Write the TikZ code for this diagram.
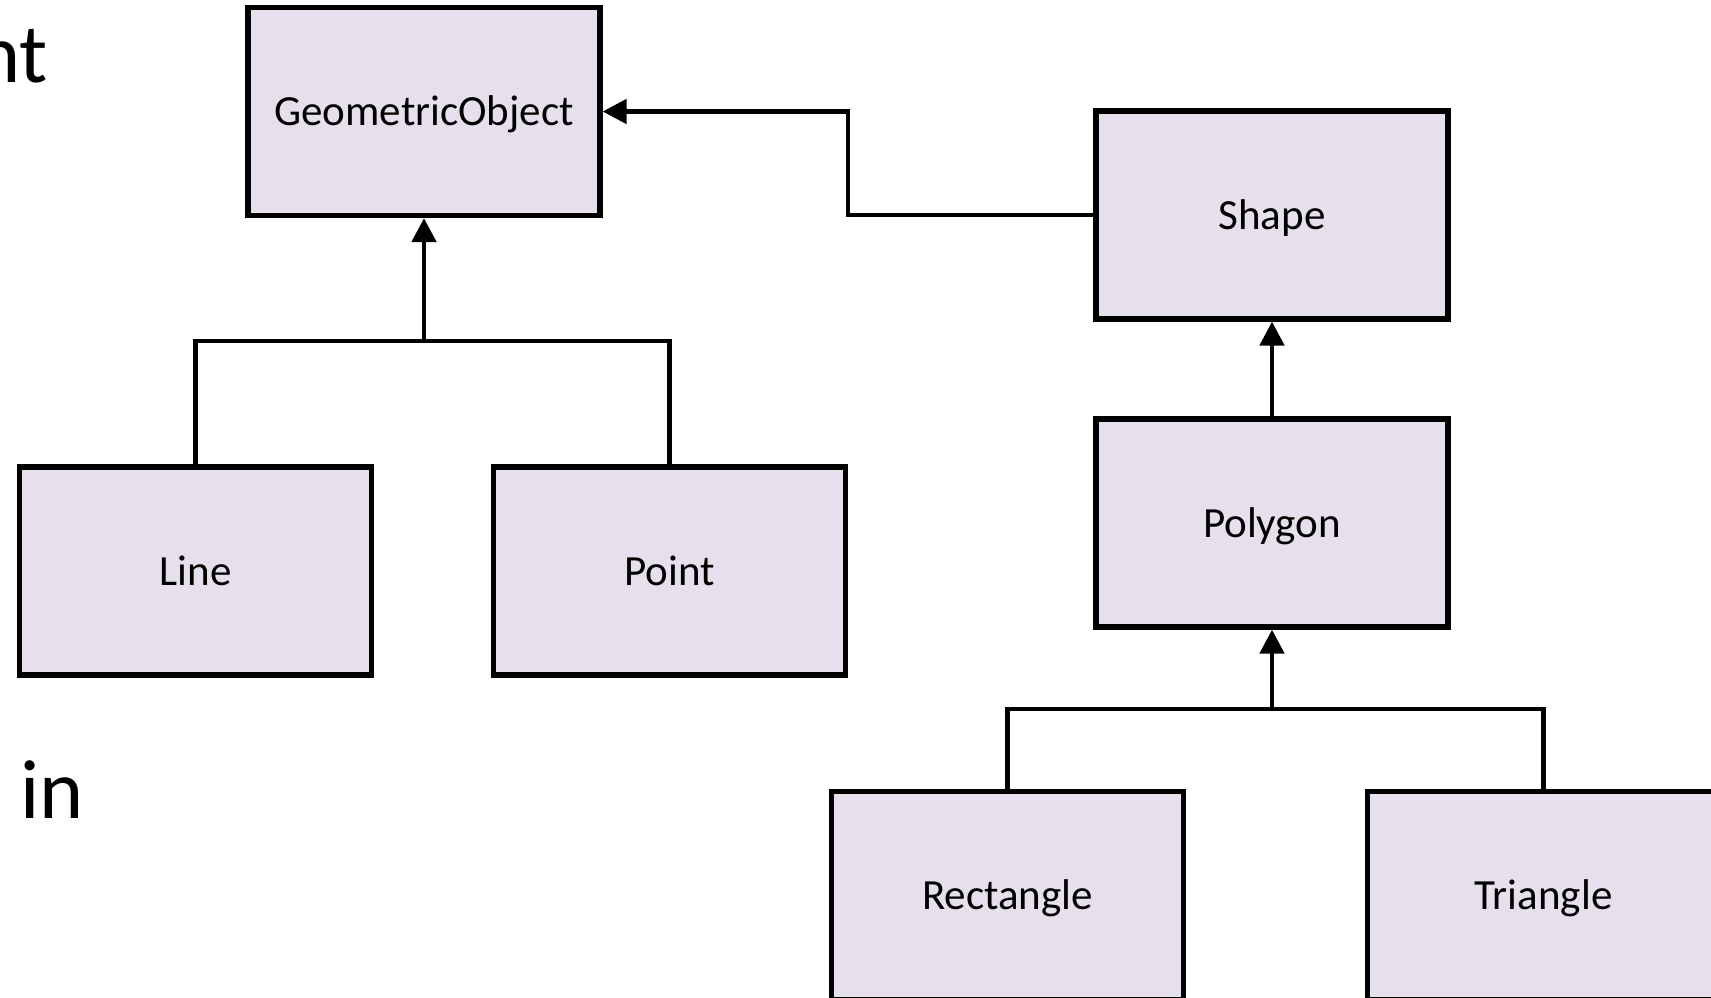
\documentclass[tikz,border=0pt]{standalone}
\usepackage{fontspec}
\setmainfont{Carlito}
\usetikzlibrary{arrows.meta}
\definecolor{boxfill}{HTML}{E5E0EC}
\tikzset{
  cls/.style={draw=black, line width=2.6pt, fill=boxfill, minimum width=176pt,
    minimum height=104pt, inner sep=0pt, text height=14.2pt, text depth=0pt,
    font=\fontsize{21.5}{24}\selectfont},
  inherit/.style={draw=black, line width=2.4pt, -{Triangle[length=12pt,width=12pt]}},
  link/.style={draw=black, line width=2.4pt},
  bigtext/.style={inner sep=0pt, font=\fontsize{42}{48}\selectfont}
}
\begin{document}
\begin{tikzpicture}[x=0.5pt,y=-0.5pt]
\useasboundingbox (0,0) rectangle (1711,997);
\clip (0,0) rectangle (1711,997);

% partial words at the left margin
\node[bigtext, anchor=base east] (txtnt) at (48,82) {nt};
\node[bigtext, anchor=base west] (txtin) at (20,818) {in};

% class boxes
\node[cls] (geo) at (424,111.5) {GeometricObject};
\node[cls] (shape) at (1272,215) {Shape};
\node[cls] (poly) at (1272,523) {Polygon};
\node[cls] (line) at (195.5,571) {Line};
\node[cls] (point) at (669.5,571) {Point};
\node[cls] (rect) at (1007.5,895.5) {Rectangle};
\node[cls] (tri) at (1543.5,895.5) {Triangle};

% junction points of the inheritance trees
\coordinate (jgeo) at (424,341);
\coordinate (jpoly) at (1272,709);
\coordinate (bend) at (848,215);

% Line and Point inherit from GeometricObject
\draw[link] (line.north) |- (jgeo) -| (point.north);
\draw[inherit] (jgeo) -- (geo.south);

% Shape inherits from GeometricObject
\draw[inherit] (shape.west) -- (bend) |- (geo.east);

% Polygon inherits from Shape
\draw[inherit] (poly.north) -- (shape.south);

% Rectangle and Triangle inherit from Polygon
\draw[link] (rect.north) |- (jpoly) -| (tri.north);
\draw[inherit] (jpoly) -- (poly.south);
\end{tikzpicture}
\end{document}
